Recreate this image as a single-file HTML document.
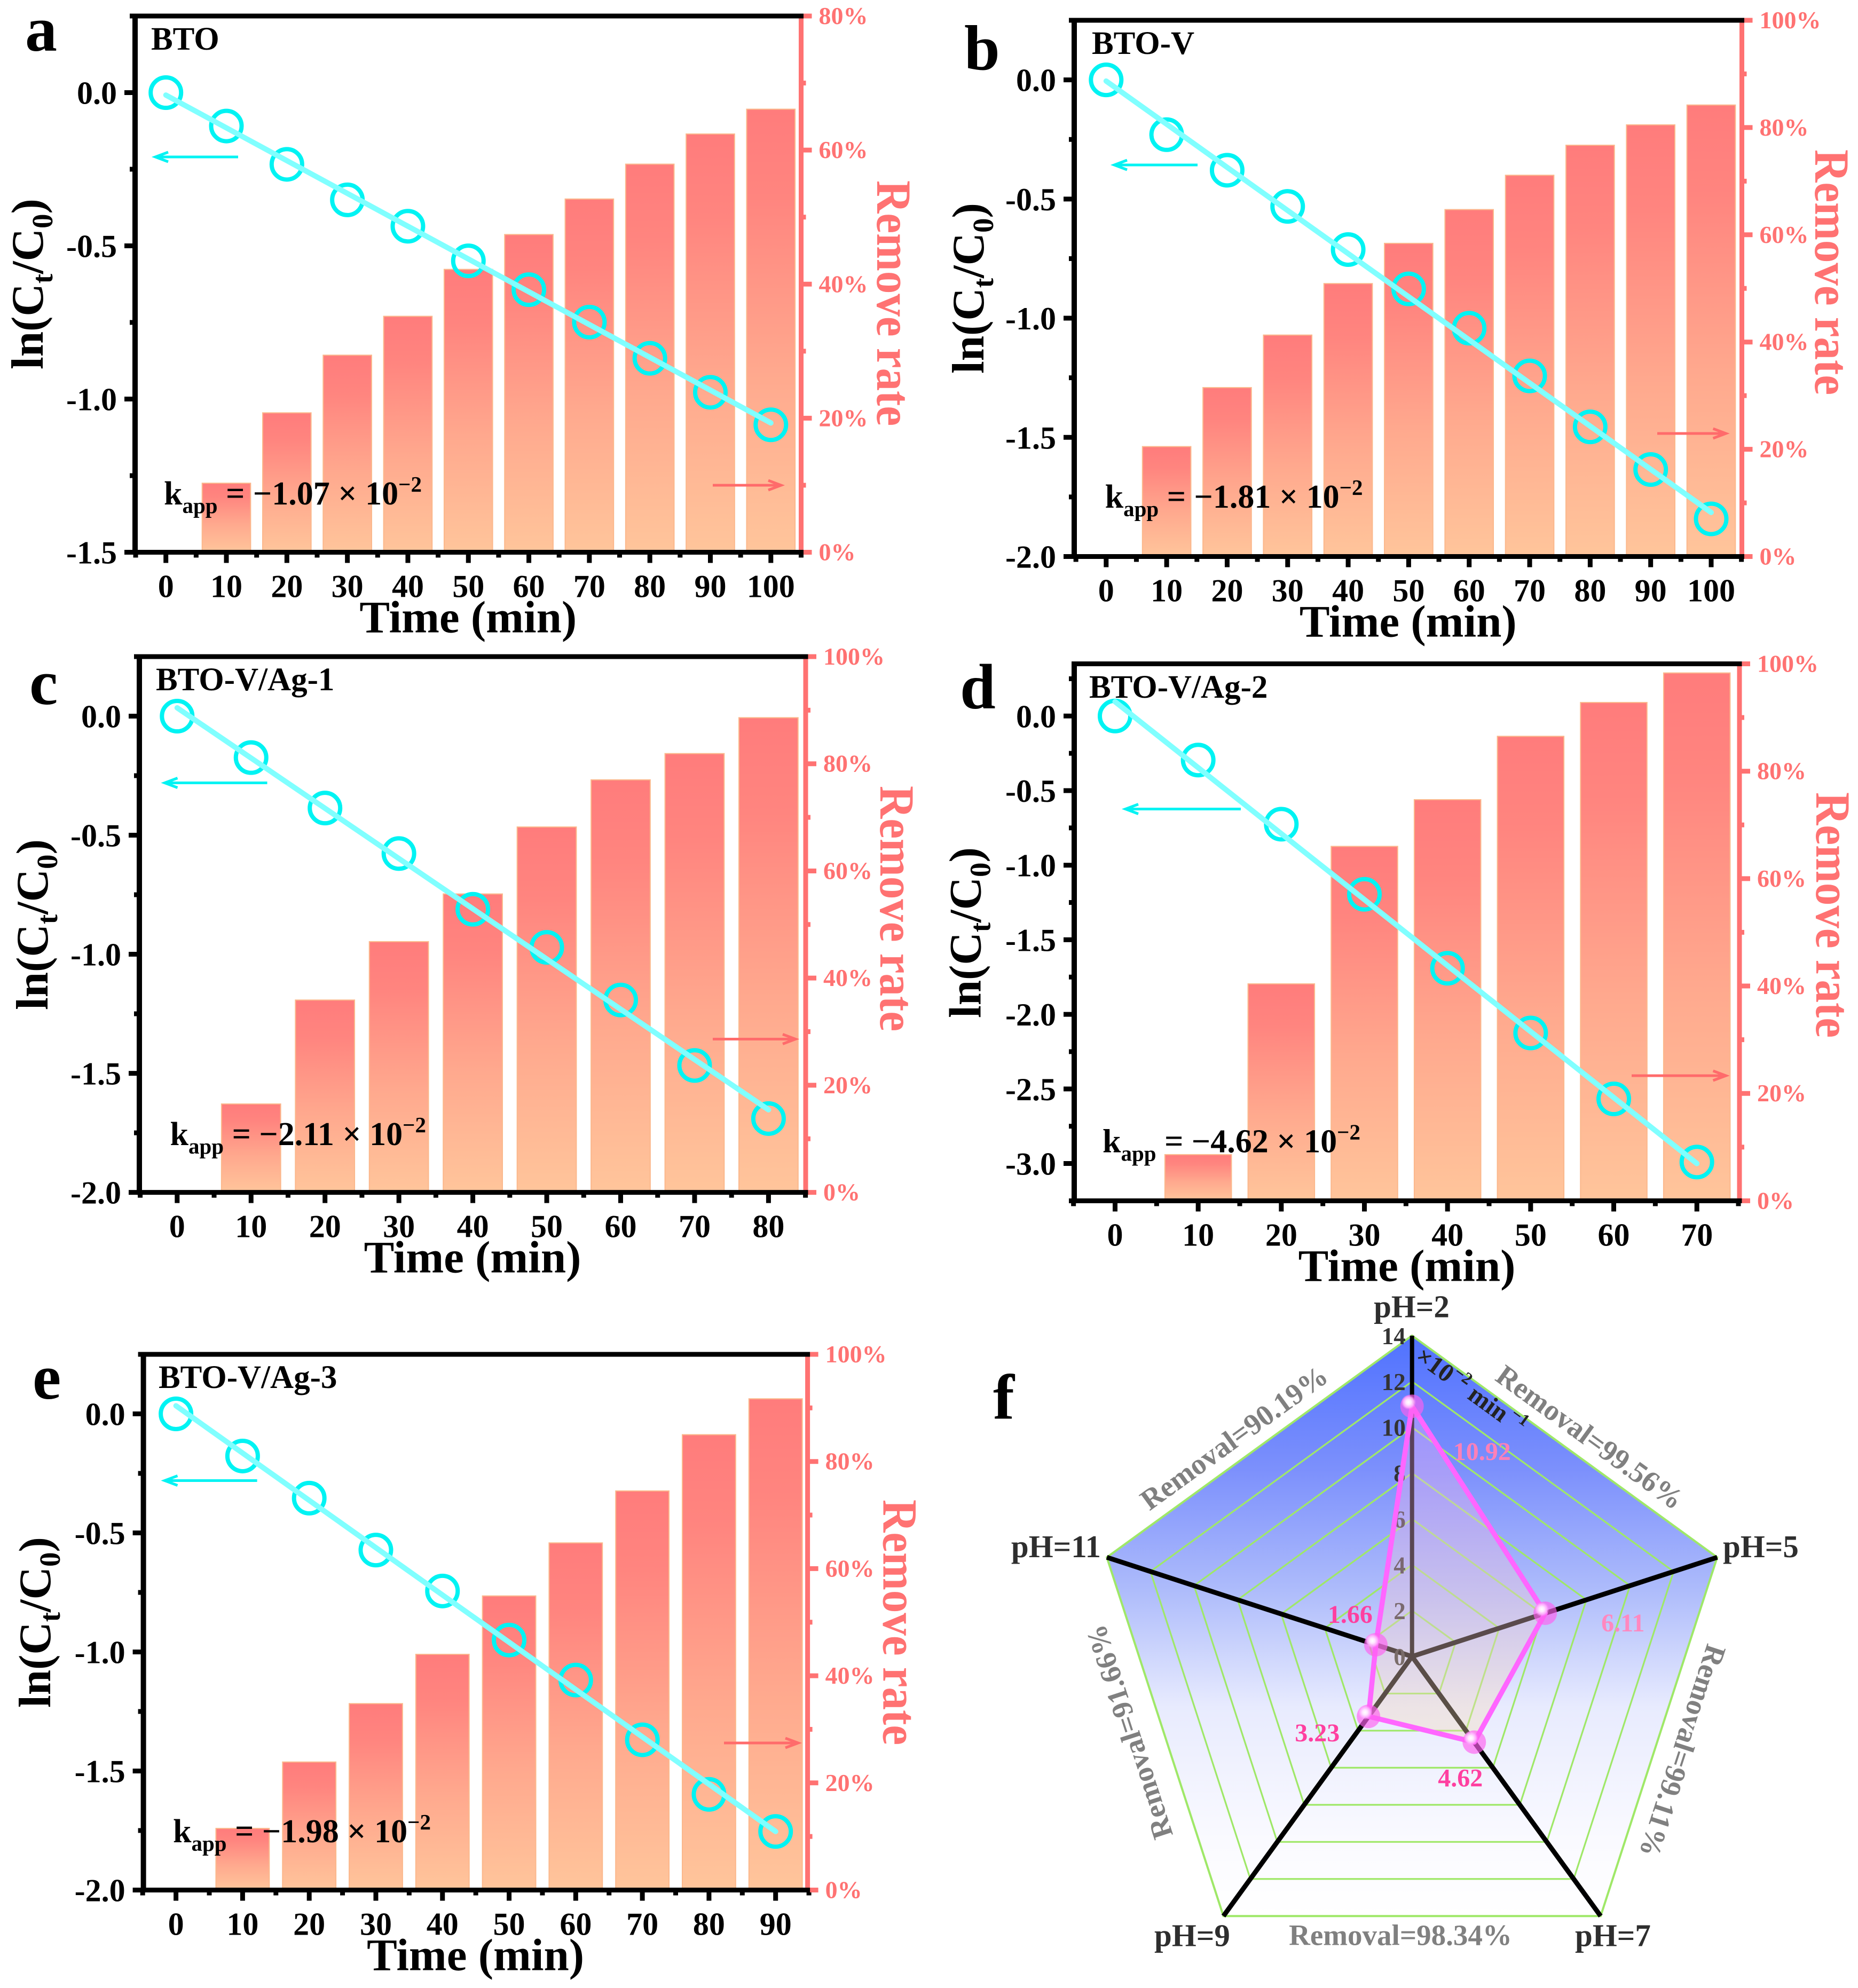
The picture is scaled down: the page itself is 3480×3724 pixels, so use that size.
<!DOCTYPE html>
<html lang="en">
<head>
<meta charset="utf-8">
<title>Degradation kinetics and removal rate panels</title>
<style>
html,body{margin:0;padding:0;background:#fff;}
svg{display:block;}
text{font-family:"Liberation Serif",serif;font-weight:bold;}
</style>
</head>
<body>
<svg id="figure" xmlns="http://www.w3.org/2000/svg" width="3480" height="3724" viewBox="0 0 3480 3724">
<defs>
<linearGradient id="barFill" x1="0" y1="0" x2="0" y2="1">
<stop offset="0" stop-color="#ff7c7c"/><stop offset="0.2" stop-color="#ff857f"/><stop offset="0.6" stop-color="#ffa98e"/><stop offset="1" stop-color="#ffc59b"/>
</linearGradient>
<linearGradient id="radarBg" x1="0" y1="0" x2="0" y2="1">
<stop offset="0" stop-color="#5072ff"/><stop offset="0.23" stop-color="#7c90fc"/><stop offset="0.44" stop-color="#aebcfb"/><stop offset="0.64" stop-color="#e8ebfe"/><stop offset="0.87" stop-color="#fafaff"/><stop offset="1" stop-color="#ffffff"/>
</linearGradient>
<linearGradient id="radarOverlay" x1="0" y1="0" x2="0" y2="1">
<stop offset="0" stop-color="#f0aaff"/><stop offset="1" stop-color="#f5dcb5"/>
</linearGradient>
<radialGradient id="ballShine">
<stop offset="0" stop-color="#ffffff"/><stop offset="0.35" stop-color="#ffe6ff"/><stop offset="0.7" stop-color="#ffb0ff" stop-opacity="0.9"/><stop offset="1" stop-color="#ff90f8" stop-opacity="0"/>
</radialGradient>
</defs>
</svg>
<script>
// ---------- panel a ----------
const timeA = [0,10,20,30,40,50,60,70,80,90,100];
const lnA = [0,-0.109,-0.234,-0.35,-0.436,-0.549,-0.643,-0.749,-0.867,-0.978,-1.084];
const removalA = [0,10.3,20.8,29.4,35.2,42.2,47.4,52.7,57.9,62.4,66.1];
const fitA = [-0.008,-1.078];
const yTicksA = [0,-0.5,-1,-1.5];
const rateTicksA = [0,20,40,60,80];
// ---------- panel b ----------
const timeB = [0,10,20,30,40,50,60,70,80,90,100];
const lnB = [0,-0.23,-0.379,-0.531,-0.712,-0.877,-1.042,-1.242,-1.456,-1.635,-1.842];
const removalB = [0,20.5,31.5,41.3,50.9,58.4,64.7,71.1,76.7,80.5,84.2];
const fitB = [-0.005,-1.815];
const yTicksB = [0,-0.5,-1,-1.5,-2];
const rateTicksB = [0,20,40,60,80,100];
// ---------- panel c ----------
const timeC = [0,10,20,30,40,50,60,70,80];
const lnC = [0,-0.174,-0.386,-0.577,-0.811,-0.971,-1.192,-1.467,-1.69];
const removalC = [0,16.5,35.9,46.8,55.7,68.2,77,81.9,88.6];
const fitC = [0.035,-1.653];
const yTicksC = [0,-0.5,-1,-1.5,-2];
const rateTicksC = [0,20,40,60,80,100];
// ---------- panel d ----------
const timeD = [0,10,20,30,40,50,60,70];
const lnD = [0,-0.295,-0.725,-1.195,-1.691,-2.125,-2.567,-2.99];
const removalD = [0,8.6,40.4,66,74.7,86.5,92.8,98.3];
const fitD = [0.096,-3];
const yTicksD = [0,-0.5,-1,-1.5,-2,-2.5,-3];
const rateTicksD = [0,20,40,60,80,100];
// ---------- panel e ----------
const timeE = [0,10,20,30,40,50,60,70,80,90];
const lnE = [0,-0.177,-0.354,-0.572,-0.744,-0.95,-1.118,-1.369,-1.598,-1.754];
const removalE = [0,11.5,23.9,34.8,44,54.9,64.8,74.5,85,91.7];
const fitE = [0.034,-1.754];
const yTicksE = [0,-0.5,-1,-1.5,-2];
const rateTicksE = [0,20,40,60,80,100];
// ---------- panel f ----------
const phCategories = ['pH=2','pH=5','pH=7','pH=9','pH=11'];
const rateConstants = [10.92,6.11,4.62,3.23,1.66];
const removalLabels = ['Removal=99.56%','Removal=99.11%','Removal=98.34%','Removal=91.66%','Removal=90.19%'];
const radarTicks = [0,2,4,6,8,10,12,14];

const NS = 'http://www.w3.org/2000/svg';
const svg = document.getElementById('figure');
const BLACK = '#000000';
const RED = '#ff7272';
const ARROW_RED = '#ff6b6b';
const CYAN = '#00f3f3';
const LINE_CYAN = '#80ffff';

function el(tag, attrs, parent) {
  const e = document.createElementNS(NS, tag);
  for (const k in attrs) e.setAttribute(k, attrs[k]);
  parent.appendChild(e);
  return e;
}
function linear(d0, d1, r0, r1) {
  return function (v) { return r0 + (v - d0) * (r1 - r0) / (d1 - d0); };
}
function arrowPath(x0, x1, y) {
  const dir = x1 > x0 ? 1 : -1;
  return 'M' + x0 + ' ' + y + 'H' + x1 + 'M' + (x1 - dir * 24) + ' ' + (y - 9) + 'L' + x1 + ' ' + y + 'L' + (x1 - dir * 24) + ' ' + (y + 9);
}

function drawPanel(p) {
  const g = el('g', {}, svg);
  
  

  const tFirst = p.time[0];
  const tLast = p.time[p.time.length - 1];
  const xS = linear(tFirst, tLast, p.xFirstPx, p.xLastPx);
  const yS = linear(p.yMin, p.yMax, p.bottom, p.top);
  const rS = linear(0, p.rateMax, p.bottom, p.top);
  const cx = (p.left + p.right) / 2;

  // bars
  p.time.forEach(function (t, i) {
    if (p.removal[i] <= 0) return;
    const bar = el('rect', {x: xS(t - 4), y: rS(p.removal[i]), width: xS(t + 4) - xS(t - 4), height: p.bottom - rS(p.removal[i]), fill: 'url(#barFill)', stroke: '#fbb88c', 'stroke-width': 2}, g);
    
    
  });

  // markers
  p.time.forEach(function (t, i) {
    const dot = el('circle', {cx: xS(t), cy: yS(p.ln[i]), r: 28.5, fill: 'none', stroke: CYAN, 'stroke-width': 8}, g);
    
    
  });

  // fit line
  const fit = el('line', {x1: xS(tFirst), y1: yS(p.fit[0]), x2: xS(tLast), y2: yS(p.fit[1]), stroke: LINE_CYAN, 'stroke-width': 10, 'stroke-linecap': 'round'}, g);
  
  

  // direction arrows
  const ca = el('path', {d: arrowPath(p.cyanArrow[1], p.cyanArrow[0], p.cyanArrow[2]), fill: 'none', stroke: CYAN, 'stroke-width': 5}, g);
  
  
  const ra = el('path', {d: arrowPath(p.redArrow[0], p.redArrow[1], p.redArrow[2]), fill: 'none', stroke: ARROW_RED, 'stroke-width': 5}, g);
  
  

  // x ticks
  for (let t = tFirst - 5; t <= tLast + 5; t += 5) {
    const major = (t - tFirst) % 10 === 0 && t >= tFirst && t <= tLast;
    const tick = el('line', {x1: xS(t), y1: p.bottom, x2: xS(t), y2: p.bottom + (major ? 20 : 10), stroke: BLACK, 'stroke-width': 9}, g);
    
    
  }
  p.time.forEach(function (t) {
    const lab = el('text', {x: xS(t), y: p.bottom + 84, 'font-size': 60, 'text-anchor': 'middle', fill: BLACK}, g);
    lab.textContent = String(t);
    
    
  });

  // y ticks (left)
  for (let v = p.yMin; v <= p.yMax + 1e-6; v += 0.25) {
    const major = Math.abs(v * 2 - Math.round(v * 2)) < 1e-6;
    const tick = el('line', {x1: p.left, y1: yS(v), x2: p.left - (major ? 20 : 10), y2: yS(v), stroke: BLACK, 'stroke-width': 9}, g);
    
    
  }
  p.yTicks.forEach(function (v) {
    const lab = el('text', {x: p.left - 34, y: yS(v) + 21, 'font-size': 60, 'text-anchor': 'end', fill: BLACK}, g);
    lab.textContent = v.toFixed(1);
    
    
  });

  // right ticks
  for (let v = 0; v <= p.rateMax; v += 10) {
    const major = v % 20 === 0;
    const tick = el('line', {x1: p.right, y1: rS(v), x2: p.right + (major ? 20 : 9), y2: rS(v), stroke: RED, 'stroke-width': 9}, g);
    
    
  }
  p.rateTicks.forEach(function (v) {
    const lab = el('text', {x: p.right + 33, y: rS(v) + 15, 'font-size': 46, fill: RED}, g);
    lab.textContent = v + '%';
    
    
  });

  // spines
  const sr = el('line', {x1: p.right, y1: p.top - 4.5, x2: p.right, y2: p.bottom, stroke: RED, 'stroke-width': 9}, g);
  
  
  const sl = el('line', {x1: p.left, y1: p.top - 4.5, x2: p.left, y2: p.bottom + 4.5, stroke: BLACK, 'stroke-width': 10}, g);
  
  
  const st = el('line', {x1: p.left - 5, y1: p.top, x2: p.right + 4.5, y2: p.top, stroke: BLACK, 'stroke-width': 9}, g);
  
  
  const sb = el('line', {x1: p.left - 5, y1: p.bottom, x2: p.right + 4.5, y2: p.bottom, stroke: BLACK, 'stroke-width': 9}, g);
  
  

  // titles
  const xt = el('text', {x: cx, y: p.bottom + 150, 'font-size': 85, 'text-anchor': 'middle', fill: BLACK}, g);
  xt.textContent = 'Time (min)';
  
  

  const yt = el('text', {transform: 'translate(' + p.yTitle[0] + ' ' + p.yTitle[1] + ') rotate(-90)', 'font-size': 85, 'text-anchor': 'middle', fill: BLACK}, g);
  
  
  yt.appendChild(document.createTextNode('ln(C'));
  el('tspan', {'font-size': 55, dy: 18}, yt).textContent = 't';
  el('tspan', {dy: -18}, yt).textContent = '/C';
  el('tspan', {'font-size': 55, dy: 18}, yt).textContent = '0';
  el('tspan', {dy: -18}, yt).textContent = ')';

  const rt = el('text', {transform: 'translate(' + (p.rateTitle[0] + 1) + ' ' + p.rateTitle[1] + ') rotate(90) scale(1 1.08)', 'font-size': 85, 'text-anchor': 'middle', fill: RED}, g);
  rt.textContent = 'Remove rate';
  
  

  const name = el('text', {x: p.sample[0], y: p.sample[1], 'font-size': 61, fill: BLACK}, g);
  name.textContent = p.sampleName;
  
  

  const letter = el('text', {x: p.letter[0], y: p.letter[1], 'font-size': 120, fill: BLACK}, g);
  letter.textContent = p.id;
  
  

  const k = el('text', {x: p.k[0], y: p.k[1], 'font-size': 62, fill: BLACK}, g);
  
  
  k.appendChild(document.createTextNode('k'));
  el('tspan', {'font-size': 41, dy: 16}, k).textContent = 'app';
  el('tspan', {dy: -16}, k).textContent = ' = \u2212' + p.kText + ' \u00d7 10';
  el('tspan', {'font-size': 41, dy: -24}, k).textContent = '\u22122';
}

drawPanel({id: 'a', time: timeA, ln: lnA, removal: removalA, fit: fitA, yTicks: yTicksA, rateTicks: rateTicksA,
  xFirstPx: 310.7, xLastPx: 1443.8,
  yMin: -1.5, yMax: 0.25, rateMax: 80, left: 253, right: 1500.5, top: 30, bottom: 1034.5,
  yTitle: [80, 532], rateTitle: [1642, 568], sample: [283, 93], sampleName: 'BTO', letter: [47, 95],
  k: [307, 945], kText: '1.07', cyanArrow: [291, 446, 294], redArrow: [1335, 1463, 909]});
drawPanel({id: 'b', time: timeB, ln: lnB, removal: removalB, fit: fitB, yTicks: yTicksB, rateTicks: rateTicksB,
  xFirstPx: 2071.8, xLastPx: 3205,
  yMin: -2, yMax: 0.25, rateMax: 100, left: 2012, right: 3262.5, top: 38, bottom: 1042.5,
  yTitle: [1842, 540], rateTitle: [3399, 510], sample: [2045, 101], sampleName: 'BTO-V', letter: [1806, 130],
  k: [2069.6, 951], kText: '1.81', cyanArrow: [2087, 2243, 309], redArrow: [3104, 3232.6, 812]});
drawPanel({id: 'c', time: timeC, ln: lnC, removal: removalC, fit: fitC, yTicks: yTicksC, rateTicks: rateTicksC,
  xFirstPx: 331.8, xLastPx: 1439.4,
  yMin: -2, yMax: 0.25, rateMax: 100, left: 261, right: 1509, top: 1230, bottom: 2233.6,
  yTitle: [89, 1732], rateTitle: [1648, 1702], sample: [292, 1293], sampleName: 'BTO-V/Ag-1', letter: [55, 1319],
  k: [318.5, 2145], kText: '2.11', cyanArrow: [308.5, 500.5, 1466.5], redArrow: [1335, 1490, 1946.5]});
drawPanel({id: 'd', time: timeD, ln: lnD, removal: removalD, fit: fitD, yTicks: yTicksD, rateTicks: rateTicksD,
  xFirstPx: 2088.5, xLastPx: 3178.2,
  yMin: -3.25, yMax: 0.35, rateMax: 100, left: 2012, right: 3258, top: 1243.5, bottom: 2249.4,
  yTitle: [1836.5, 1747], rateTitle: [3401, 1714], sample: [2040, 1307], sampleName: 'BTO-V/Ag-2', letter: [1798, 1326.5],
  k: [2065, 2158.5], kText: '4.62', cyanArrow: [2108, 2324, 1515.5], redArrow: [3056, 3232.6, 2015]});
drawPanel({id: 'e', time: timeE, ln: lnE, removal: removalE, fit: fitE, yTicks: yTicksE, rateTicks: rateTicksE,
  xFirstPx: 329.6, xLastPx: 1452.7,
  yMin: -2, yMax: 0.25, rateMax: 100, left: 268.6, right: 1512.6, top: 2537, bottom: 3540.5,
  yTitle: [94, 3039], rateTitle: [1653.5, 3039], sample: [297, 2600], sampleName: 'BTO-V/Ag-3', letter: [61, 2620],
  k: [324, 3451], kText: '1.98', cyanArrow: [308.5, 481.6, 2773.5], redArrow: [1356, 1495, 3265]});

// ---------- radar panel ----------
(function () {
  const CX = 2644.7, CY = 3103, R = 601, MAX = 14;
  const rad = linear(0, MAX, 0, R);
  function pt(i, v) {
    const a = i * 72 * Math.PI / 180;
    return [CX + rad(v) * Math.sin(a), CY - rad(v) * Math.cos(a)];
  }
  function ring(v) {
    return phCategories.map(function (c, i) { return pt(i, v).join(','); }).join(' ');
  }
  const g = el('g', {}, svg);
  
  

  const bg = el('polygon', {points: ring(MAX), fill: 'url(#radarBg)'}, g);
  
  

  radarTicks.forEach(function (v) {
    if (v === 0) return;
    const r = el('polygon', {points: ring(v), fill: 'none', stroke: '#9fe868', 'stroke-width': v === MAX ? 4 : 3.2}, g);
    
    
  });

  phCategories.forEach(function (c, i) {
    const e = pt(i, MAX);
    const s = el('line', {x1: CX, y1: CY, x2: e[0], y2: e[1], stroke: BLACK, 'stroke-width': i === 0 ? 8 : 9}, g);
    
    
  });

  radarTicks.forEach(function (v) {
    const t = el('text', {x: CX - 12, y: CY - rad(v) + 16, 'font-size': 45, 'text-anchor': 'end', fill: '#333333'}, g);
    t.textContent = String(v);
    
    
  });

  const dataPts = rateConstants.map(function (v, i) { return pt(i, v).join(','); }).join(' ');
  const area = el('polygon', {points: dataPts, fill: 'url(#radarOverlay)', 'fill-opacity': 0.37}, g);
  
  
  const outline = el('polygon', {points: dataPts, fill: 'none', stroke: '#ff66ff', 'stroke-width': 9.5, 'stroke-linejoin': 'round'}, g);
  
  

  const valueLabelOffset = [[77, 101], [105, 34], [-68, 83], [-138, 47], [-90, -41]];
  const valueLabelColor = ['#ff80b8', '#ff88c0', '#ff3fa0', '#ff3fa0', '#ff3fa0'];
  rateConstants.forEach(function (v, i) {
    const p = pt(i, v);
    const ball = el('circle', {cx: p[0], cy: p[1], r: 22, fill: '#ff5ff0', 'fill-opacity': 0.66}, g);
    
    
    const shine = el('circle', {cx: p[0] - 6.5, cy: p[1] - 7.5, r: 14, fill: 'url(#ballShine)'}, g);
    
    
    const lab = el('text', {x: p[0] + valueLabelOffset[i][0], y: p[1] + valueLabelOffset[i][1], 'font-size': 48, fill: valueLabelColor[i]}, g);
    lab.textContent = v.toFixed(2);
    
    
  });

  const catPlace = [[2644, 2467.5, 'middle'], [3227, 2917, 'start'], [2950, 3645.5, 'start'], [2162, 3645.5, 'start'], [2062, 2917, 'end']];
  phCategories.forEach(function (c, i) {
    const t = el('text', {x: catPlace[i][0], y: catPlace[i][1], 'font-size': 59, 'text-anchor': catPlace[i][2], fill: '#2e2e2e'}, g);
    t.textContent = c;
    
    
  });

  const removalPlace = [[2978, 2692, 36], [3152, 3280, 108], [2623, 3625, 0], [2115, 3244.5, -108], [2311, 2693, -36]];
  removalLabels.forEach(function (c, i) {
    const t = el('text', {transform: 'translate(' + removalPlace[i][0] + ' ' + removalPlace[i][1] + ') rotate(' + removalPlace[i][2] + ')', 'font-size': 55, 'text-anchor': 'middle', dy: '0.34em', fill: '#808080'}, g);
    t.textContent = c;
    
    
  });

  const unit = el('text', {transform: 'translate(2648 2547) rotate(36)', 'font-size': 48, fill: '#222222'}, g);
  
  
  unit.appendChild(document.createTextNode('\u00d710'));
  el('tspan', {'font-size': 32, dy: -20}, unit).textContent = '\u22122';
  el('tspan', {dy: 20, dx: 12}, unit).textContent = 'min';
  el('tspan', {'font-size': 32, dy: -20, dx: 6}, unit).textContent = '\u22121';

  const letterF = el('text', {x: 1860, y: 2657.5, 'font-size': 120, fill: BLACK}, g);
  letterF.textContent = 'f';
  
  
})();
</script>
</body>
</html>
